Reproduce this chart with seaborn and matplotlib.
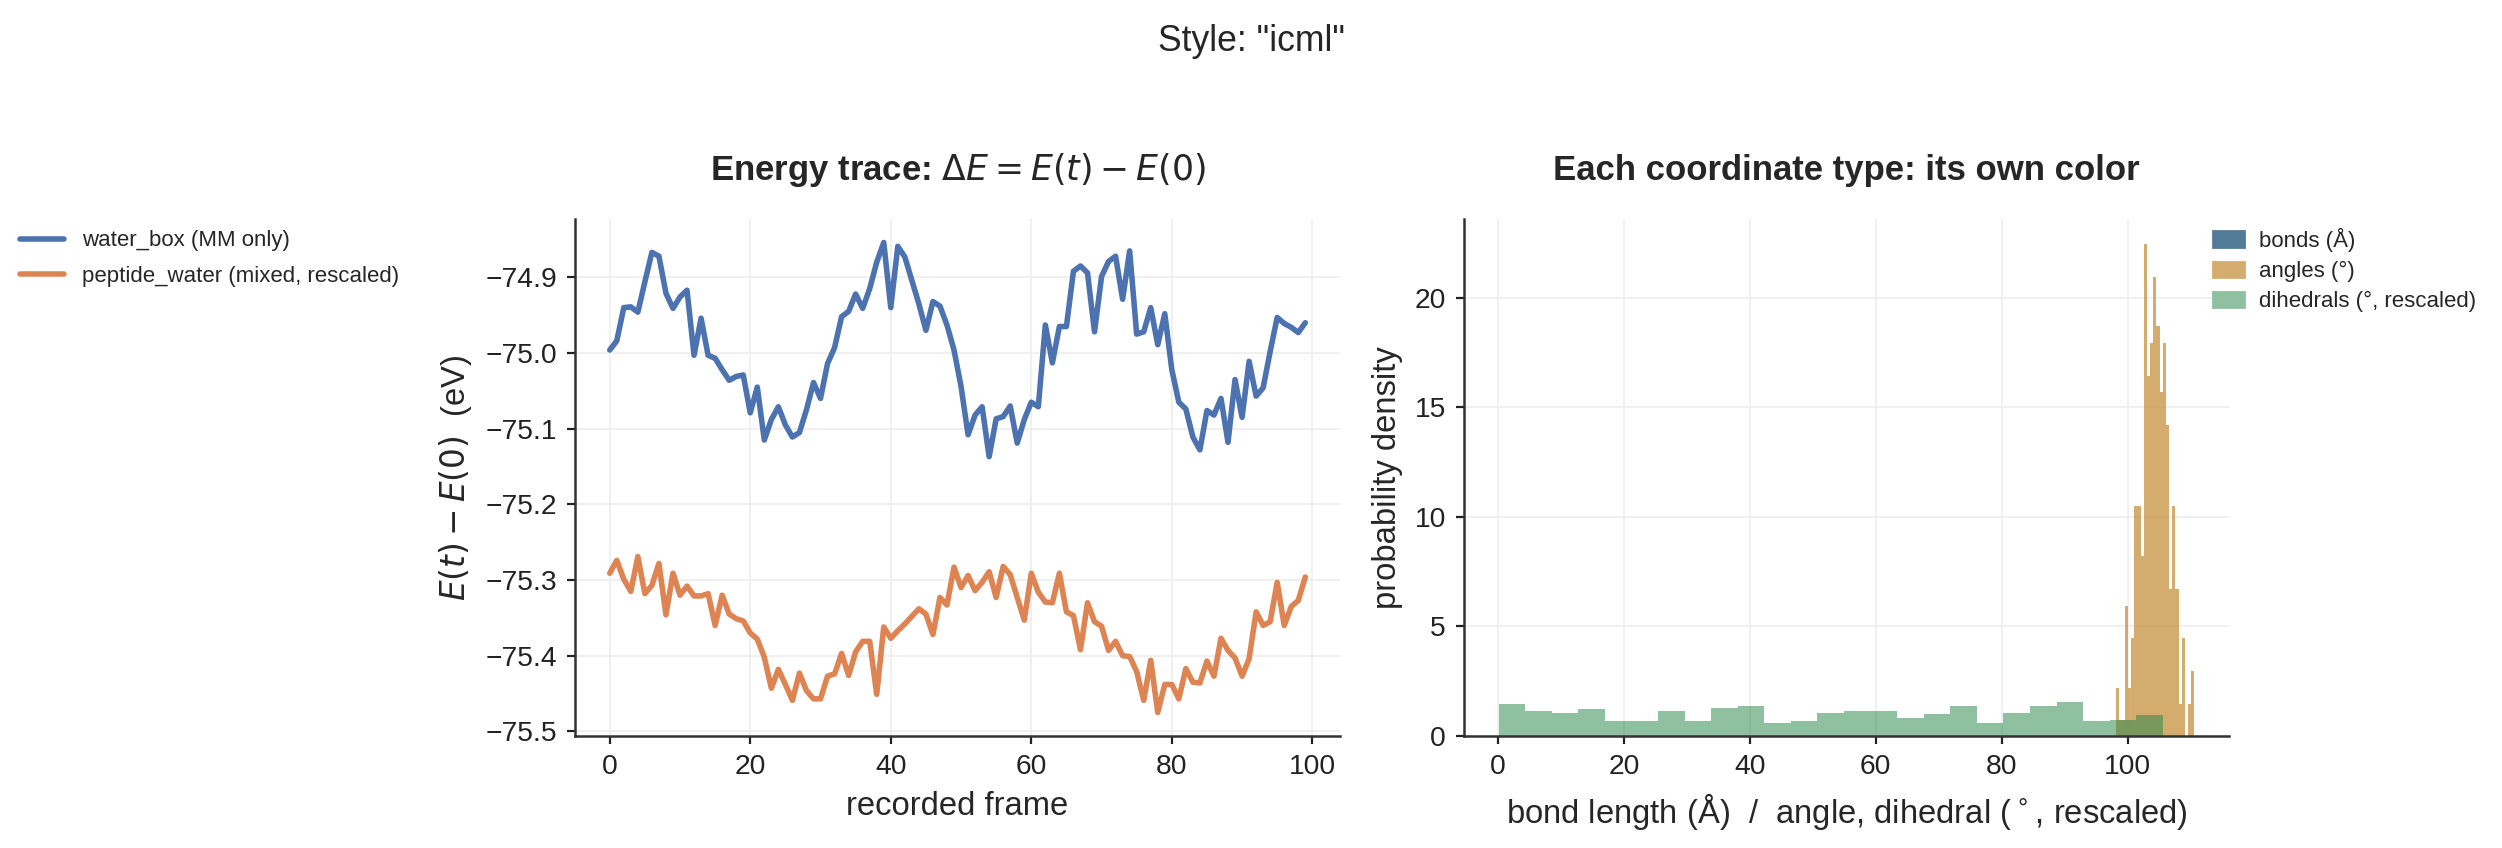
import numpy as np
import pandas as pd
import seaborn as sns
import matplotlib.pyplot as plt
from matplotlib.patches import Patch

# energy traces (eV), one value per recorded frame
frames = np.arange(100)
water_box = [
    -74.996, -74.984, -74.940, -74.939, -74.946, -74.906, -74.867, -74.872, -74.921, -74.941,
    -74.926, -74.917, -75.003, -74.954, -75.003, -75.007, -75.022, -75.036, -75.031, -75.029,
    -75.079, -75.045, -75.115, -75.088, -75.071, -75.095, -75.111, -75.105, -75.075, -75.039,
    -75.060, -75.014, -74.993, -74.952, -74.945, -74.922, -74.941, -74.915, -74.880, -74.854,
    -74.940, -74.859, -74.873, -74.904, -74.935, -74.970, -74.932, -74.938, -74.963, -74.996,
    -75.044, -75.108, -75.082, -75.071, -75.137, -75.087, -75.084, -75.070, -75.119, -75.088,
    -75.065, -75.071, -74.963, -75.013, -74.965, -74.965, -74.892, -74.885, -74.894, -74.972,
    -74.899, -74.879, -74.872, -74.929, -74.865, -74.975, -74.972, -74.940, -74.989, -74.948,
    -75.022, -75.065, -75.074, -75.111, -75.128, -75.076, -75.082, -75.060, -75.118, -75.035,
    -75.085, -75.011, -75.057, -75.046, -74.998, -74.953, -74.961, -74.966, -74.973, -74.960,
]
peptide_water = [
    -75.291, -75.274, -75.299, -75.315, -75.269, -75.318, -75.307, -75.278, -75.346, -75.291,
    -75.320, -75.308, -75.321, -75.321, -75.318, -75.360, -75.320, -75.345, -75.351, -75.354,
    -75.370, -75.378, -75.402, -75.443, -75.418, -75.438, -75.459, -75.423, -75.446, -75.457,
    -75.457, -75.427, -75.424, -75.397, -75.426, -75.395, -75.381, -75.381, -75.451, -75.362,
    -75.377, -75.367, -75.358, -75.348, -75.338, -75.345, -75.372, -75.323, -75.333, -75.283,
    -75.310, -75.294, -75.314, -75.303, -75.289, -75.323, -75.282, -75.293, -75.323, -75.353,
    -75.291, -75.316, -75.329, -75.330, -75.291, -75.342, -75.347, -75.392, -75.330, -75.355,
    -75.361, -75.393, -75.381, -75.400, -75.401, -75.421, -75.459, -75.406, -75.475, -75.438,
    -75.438, -75.457, -75.417, -75.435, -75.436, -75.407, -75.427, -75.377, -75.393, -75.403,
    -75.427, -75.404, -75.342, -75.360, -75.355, -75.303, -75.360, -75.335, -75.327, -75.296,
]
run_labels = ["water_box (MM only)", "peptide_water (mixed, rescaled)"]

# histogram bin heights
angle_range = (98.1, 110.6)
angle_density = [2.21, 0.75, 0.75, 5.95, 2.21, 4.49, 10.49, 10.49, 8.23, 22.48,
                 16.45, 17.95, 20.97, 18.74, 15.72, 17.95, 14.22, 6.73, 10.49, 6.73,
                 1.48, 4.49, 0.0, 1.48, 2.97]
dihedral_range = (0.1, 105.6)
dihedral_density = [1.48, 1.16, 1.07, 1.25, 0.70, 0.70, 1.16, 0.70, 1.30, 1.35,
                    0.57, 0.70, 1.07, 1.16, 1.16, 0.84, 1.02, 1.39, 0.61, 1.07,
                    1.35, 1.57, 0.70, 0.75, 0.98]
hist_labels = ["bonds (Å)", "angles (°)", "dihedrals (°, rescaled)"]

line_colors = ["#4c72b0", "#dd8452"]
hist_colors = ["#1b4f77", "#c5903e", "#28864a"]
legend_colors = ["#527b9a", "#d4ac6e", "#8fc0a1"]

sns.set_theme(style="ticks")
plt.rcParams["font.family"] = ["Liberation Sans", "DejaVu Sans"]
plt.rcParams.update({
    "axes.edgecolor": "#333333",
    "axes.linewidth": 0.9,
    "xtick.color": "#222222",
    "ytick.color": "#222222",
    "xtick.major.size": 3,
    "ytick.major.size": 3,
    "xtick.major.width": 0.8,
    "ytick.major.width": 0.8,
    "xtick.labelsize": 10.2,
    "ytick.labelsize": 10.2,
    "axes.labelsize": 11.8,
    "grid.color": "#eeeeee",
    "grid.linewidth": 0.6,
})

fig = plt.figure(figsize=(12.51, 4.24), dpi=200)
ax1 = fig.add_axes([0.2298, 0.1321, 0.3058, 0.6096])
ax2 = fig.add_axes([0.5851, 0.1321, 0.3058, 0.6096])

df = pd.DataFrame({
    "frame": np.concatenate([frames, frames]),
    "dE": water_box + peptide_water,
    "run": [run_labels[0]] * len(frames) + [run_labels[1]] * len(frames),
})
sns.lineplot(data=df, x="frame", y="dE", hue="run", palette=line_colors,
             linewidth=2.0, ax=ax1, legend=False)
ax1.set_xlabel("recorded frame")
ax1.set_ylabel("$E(t) - E(0)$  (eV)")
ax1.set_title("Energy trace: $\\Delta E = E(t) - E(0)$", fontsize=12.5,
              fontweight="bold", pad=14)
ax1.grid(True)

a_step = (angle_range[1] - angle_range[0]) / len(angle_density)
d_step = (dihedral_range[1] - dihedral_range[0]) / len(dihedral_density)
angles_df = pd.DataFrame({
    "x": angle_range[0] + a_step * (np.arange(len(angle_density)) + 0.5),
    "w": angle_density,
})
dihedrals_df = pd.DataFrame({
    "x": dihedral_range[0] + d_step * (np.arange(len(dihedral_density)) + 0.5),
    "w": dihedral_density,
})
sns.histplot(data=angles_df, x="x", weights="w", bins=len(angle_density),
             binrange=angle_range, color=hist_colors[1], alpha=0.75, linewidth=0, ax=ax2)
sns.histplot(data=dihedrals_df, x="x", weights="w", bins=len(dihedral_density),
             binrange=dihedral_range, color=hist_colors[2], alpha=0.52, linewidth=0, ax=ax2)
ax2.set_xlabel("bond length (Å)  /  angle, dihedral ($^\\circ$, rescaled)")
ax2.set_ylabel("probability density")
ax2.set_title("Each coordinate type: its own color", fontsize=12.5,
              fontweight="bold", pad=14)
ax2.grid(True)

for ax in (ax1, ax2):
    sns.despine(ax=ax)
    ax.set_axisbelow(True)

fig.legend(ax1.lines[:2], run_labels, loc="upper left", bbox_to_anchor=(0.0, 0.752),
           frameon=False, fontsize=8, handlelength=2.0, labelspacing=0.66)
fig.legend([Patch(color=c) for c in legend_colors], hist_labels, loc="upper left",
           bbox_to_anchor=(0.8765, 0.755), frameon=False, fontsize=8,
           handlelength=1.4, handletextpad=0.65, labelspacing=0.41)

fig.suptitle('Style: "icml"', fontsize=12.8, y=0.972)
fig.savefig("out.png", dpi=200)
